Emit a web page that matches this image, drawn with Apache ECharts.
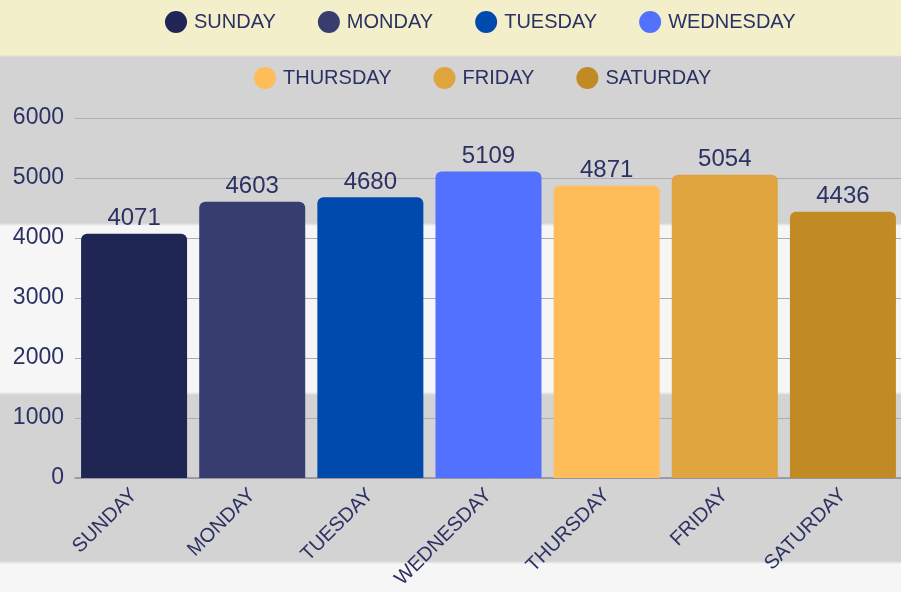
<!DOCTYPE html>
<html>
<head>
<meta charset="utf-8">
<script src="https://cdn.jsdelivr.net/npm/echarts@6/dist/echarts.min.js"></script>
<style>
html,body{margin:0;padding:0;}
#bg{width:901px;height:592px;background:linear-gradient(to bottom,#f4efcb 0px,#f4efcb 55px,#d3d3d3 57px,#d3d3d3 223px,#f6f6f6 226px,#f6f6f6 392px,#d3d3d3 395px,#d3d3d3 561px,#f6f6f6 564px,#f6f6f6 592px);}
#chart{width:901px;height:592px;}
</style>
</head>
<body>
<div id="bg"><div id="chart"></div></div>
<script>
const categories = ['SUNDAY','MONDAY','TUESDAY','WEDNESDAY','THURSDAY','FRIDAY','SATURDAY'];
const values = [4071, 4603, 4680, 5109, 4871, 5054, 4436];
const colors = ['#1f2654','#373d6e','#004aad','#5271ff','#ffbd59','#e0a43f','#c18a25'];
const yTicks = [0, 1000, 2000, 3000, 4000, 5000, 6000];

const textColor = '#2b3163';
const chart = echarts.init(document.getElementById('chart'));

const series = categories.map((name, i) => ({
  name: name,
  type: 'bar',
  stack: 'all',
  barWidth: 106,
  itemStyle: { color: colors[i], borderRadius: [6,6,0,0] },
  label: {
    show: true, position: 'top', distance: 3,
    color: textColor, fontFamily: 'Liberation Sans', fontSize: 24,
    formatter: p => String(p.value)
  },
  data: categories.map((c, j) => j === i ? values[i] : '-')
}));

const legendBase = {
  icon: 'circle', itemWidth: 22, itemHeight: 22, itemGap: 42,
  textStyle: { color: textColor, fontFamily: 'Liberation Sans', fontSize: 20, padding:[0,0,0,2] }
};

chart.setOption({
  backgroundColor: 'transparent',
  animation: false,
  color: colors,
  legend: [
    Object.assign({}, legendBase, { data: categories.slice(0,4), left: 160, top: 6 }),
    Object.assign({}, legendBase, { data: categories.slice(4), left: 249, top: 62 })
  ],
  grid: { left: 75, width: 827, top: 118, bottom: 114, containLabel: false, outerBoundsMode: 'none' },
  xAxis: {
    type: 'category', data: categories,
    axisLine: { lineStyle: { color: '#8e8fa0', width: 1.5 } },
    axisTick: { show: false },
    axisLabel: { rotate: 45, margin: 14, color: textColor, fontFamily: 'Liberation Sans', fontSize: 20, interval: 0 }
  },
  yAxis: {
    type: 'value', min: yTicks[0], max: yTicks[yTicks.length-1], interval: 1000,
    axisLine: { show: false }, axisTick: { show: false },
    splitLine: { lineStyle: { color: '#adadb8', width: 1 } },
    axisLabel: { margin: 11, color: textColor, fontFamily: 'Liberation Sans', fontSize: 23, formatter: v => String(v) }
  },
  series: series
});
</script>
</body>
</html>
